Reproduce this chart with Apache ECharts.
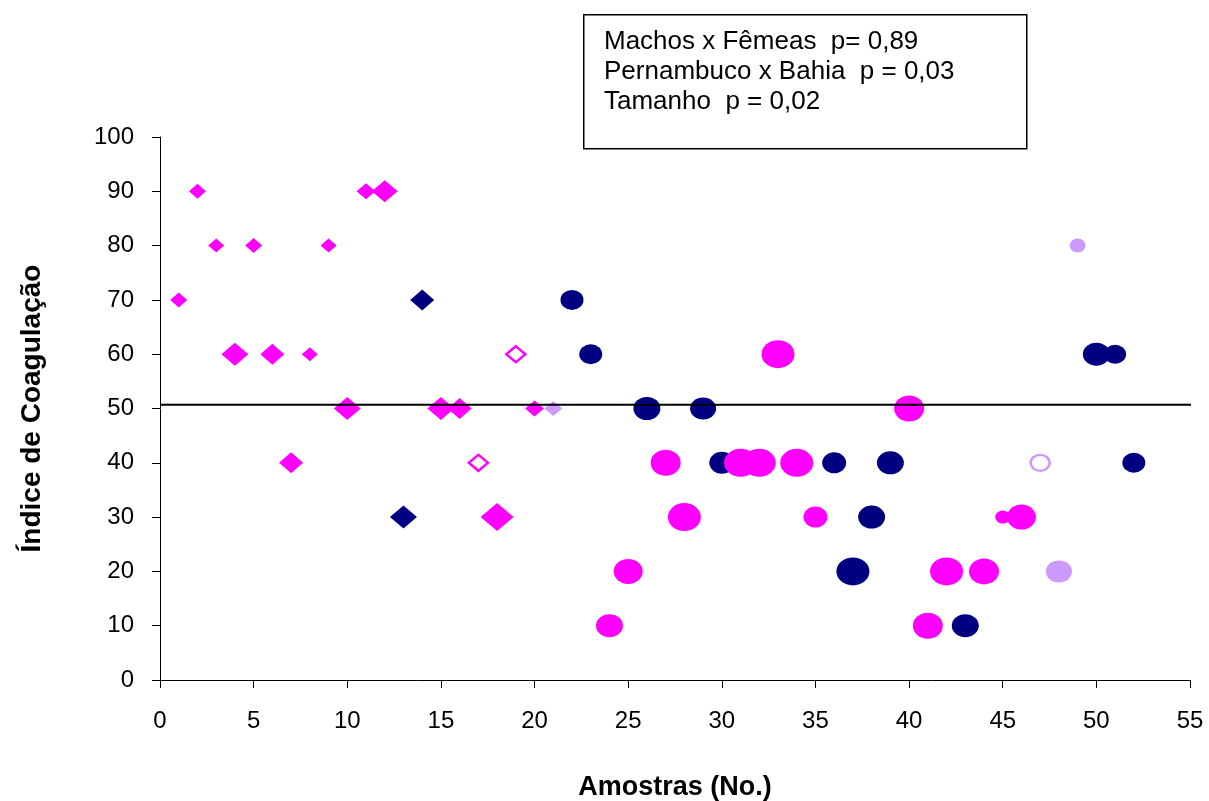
<!DOCTYPE html>
<html>
<head>
<meta charset="utf-8">
<script src="https://cdn.jsdelivr.net/npm/echarts@6/dist/echarts.min.js"></script>
<style>
  html, body { margin: 0; padding: 0; background: #fff; }
  #chart { width: 1209px; height: 801px; }
</style>
</head>
<body>
<div id="chart"></div>
<script>
// [amostra, índice, tamanho (largura do símbolo)]
const pinkDiamonds = [
  [1, 70, 17], [2, 90, 17], [3, 80, 16], [4, 60, 27], [5, 80, 17], [6, 60, 24],
  [7, 40, 24], [8, 60, 16], [9, 80, 16], [10, 50, 27], [11, 90, 19], [12, 90, 26],
  [15, 50, 27], [16, 50, 24], [18, 30, 33], [20, 50, 19]
];
const navyDiamonds = [[13, 30, 27], [14, 70, 24]];
const pinkHollowDiamonds = [[17, 40, 19], [19, 60, 19]];
const lilacDiamonds = [[21, 50, 18]];

const navyCircles = [
  [22, 70, 23], [23, 60, 23], [26, 50, 27], [29, 50, 26], [30, 40, 25], [36, 40, 24],
  [37, 20, 33], [38, 30, 27], [39, 40, 27], [43, 10, 27], [50, 60, 27], [51, 60, 22], [52, 40, 23]
];
const pinkCircles = [
  [24, 10, 27], [25, 20, 29], [27, 40, 30], [28, 30, 33], [31, 40, 33], [32, 40, 33],
  [33, 60, 33], [34, 40, 33], [35, 30, 24], [40, 50, 30], [41, 10, 30], [42, 20, 33],
  [44, 20, 30], [45, 30, 15], [46, 30, 29]
];
const lilacCircles = [[48, 20, 26], [49, 80, 16]];
const lilacHollowCircles = [[47, 40, 19]];

const refLine = [[0, 50.7], [55.6, 50.7]];

const boxLines = [
  "Machos x Fêmeas  p= 0,89",
  "Pernambuco x Bahia  p = 0,03",
  "Tamanho  p = 0,02"
];

const PINK = "#ff00ff";
const NAVY = "#000080";
const LILAC = "#cc99ff";
const FONT = "'Liberation Sans', Arial, sans-serif";

const sizeFn = (d) => [d[2], Math.round(d[2] * 0.86)];

function scatter(data, symbol, color, hollow) {
  return {
    type: "scatter",
    data: data,
    symbol: symbol,
    symbolSize: sizeFn,
    itemStyle: hollow
      ? { color: "#fff", borderColor: color, borderWidth: 2.5, opacity: 1 }
      : { color: color, opacity: 1 },
    emphasis: { disabled: true },
    z: 2
  };
}

const chart = echarts.init(document.getElementById("chart"), null, { renderer: "canvas" });

chart.setOption({
  animation: false,
  backgroundColor: "#fff",
  textStyle: { fontFamily: FONT },
  grid: { left: 160, right: 19, top: 137, bottom: 121, containLabel: false, outerBoundsMode: "none" },
  xAxis: {
    type: "value", min: 0, max: 55, interval: 5,
    name: "Amostras (No.)", nameLocation: "middle", nameGap: 94,
    nameTextStyle: { fontFamily: FONT, fontSize: 27, fontWeight: "bold", color: "#000" },
    axisLine: { onZero: false, lineStyle: { color: "#000", width: 1 } },
    axisTick: { inside: false, length: 8, lineStyle: { color: "#000" } },
    axisLabel: { fontSize: 24, color: "#000", margin: 29, fontFamily: FONT },
    splitLine: { show: false }
  },
  yAxis: {
    type: "value", min: 0, max: 100, interval: 10,
    name: "Índice de Coagulação", nameLocation: "middle", nameGap: 114, nameRotate: 90,
    nameTextStyle: { fontFamily: FONT, fontSize: 28, fontWeight: "bold", color: "#000" },
    axisLine: { show: true, onZero: false, lineStyle: { color: "#000", width: 1 } },
    axisTick: { show: true, inside: false, length: 8, lineStyle: { color: "#000" } },
    axisLabel: { fontSize: 24, color: "#000", margin: 26, fontFamily: FONT },
    splitLine: { show: false }
  },
  series: [
    scatter(pinkDiamonds, "diamond", PINK, false),
    scatter(navyDiamonds, "diamond", NAVY, false),
    scatter(pinkHollowDiamonds, "diamond", PINK, true),
    scatter(lilacDiamonds, "diamond", LILAC, false),
    scatter(navyCircles, "circle", NAVY, false),
    scatter(pinkCircles, "circle", PINK, false),
    scatter(lilacCircles, "circle", LILAC, false),
    scatter(lilacHollowCircles, "circle", LILAC, true),
    {
      type: "line",
      data: refLine,
      symbol: "none",
      clip: false,
      lineStyle: { color: "#000", width: 2 },
      emphasis: { disabled: true },
      z: 5
    }
  ],
  graphic: [
    {
      type: "rect",
      left: 583, top: 14,
      shape: { width: 443, height: 134 },
      style: { fill: "#fff", stroke: "#000", lineWidth: 1.5 }
    },
    {
      type: "text",
      left: 604, top: 27,
      style: {
        text: boxLines.join("\n"),
        font: "26px " + FONT,
        lineHeight: 30,
        fill: "#000"
      }
    }
  ]
});
</script>
</body>
</html>
